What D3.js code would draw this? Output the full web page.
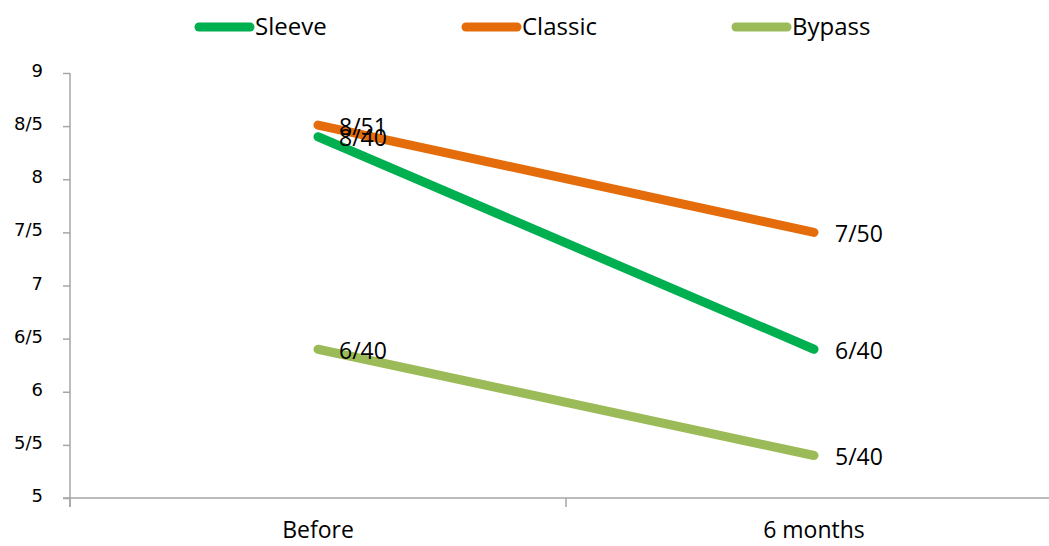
<!DOCTYPE html>
<html><head><meta charset="utf-8">
<script src="https://cdn.jsdelivr.net/npm/d3@7"></script>
<style>html,body{margin:0;padding:0;background:#fff;overflow:hidden}</style>
</head><body>
<svg id="c" width="1049" height="546"></svg>
<script>
const categories = ["Before", "6 months"];
const seriesNames = ["Sleeve", "Classic", "Bypass"];
const sleeve = [8.40, 6.40];
const classic = [8.51, 7.50];
const bypass = [6.40, 5.40];
const sleeveLabels = ["8/40", "6/40"];
const classicLabels = ["8/51", "7/50"];
const bypassLabels = ["6/40", "5/40"];
const yTicks = [5, 5.5, 6, 6.5, 7, 7.5, 8, 8.5, 9];
const yTickLabels = ["5", "5/5", "6", "6/5", "7", "7/5", "8", "8/5", "9"];
const colors = ["#00B050", "#E46C0A", "#9BBB59"];

const series = [
  {name: seriesNames[0], values: sleeve, labels: sleeveLabels, color: colors[0]},
  {name: seriesNames[1], values: classic, labels: classicLabels, color: colors[1]},
  {name: seriesNames[2], values: bypass, labels: bypassLabels, color: colors[2]}
];

const svg = d3.select("#c");
const pLeft = 70, pRight = 1062, pTop = 73, pBottom = 498;
const x = d3.scaleBand().domain(categories).range([pLeft, pRight]).padding(0);
const y = d3.scaleLinear().domain([5, 9]).range([pBottom, pTop]);
const axisColor = "#a6a6a6";

// y axis
const ya = svg.append("g").attr("transform", `translate(${pLeft},0)`)
  .call(d3.axisLeft(y).tickValues(yTicks).tickFormat((d,i) => yTickLabels[i]).tickSizeOuter(0).tickSize(7).tickPadding(20));
ya.select(".domain").attr("stroke", axisColor).attr("stroke-width", 1.5).attr("d", `M0,${pTop}V${pBottom+9}`);
ya.selectAll(".tick line").attr("stroke", axisColor).attr("stroke-width", 1.5);
ya.selectAll(".tick text").attr("font-family", "DejaVu Sans").attr("font-size", 18).attr("fill", "#000").attr("dy", "0.2em");

// x axis
const xa = svg.append("g").attr("transform", `translate(0,${pBottom})`)
  .call(d3.axisBottom(x).tickSize(0).tickSizeOuter(0).tickPadding(24));
xa.select(".domain").attr("stroke", axisColor).attr("stroke-width", 1.5).attr("d", `M${pLeft - 7},0H${pRight}`);
xa.selectAll(".tick text").attr("font-family", "Open Sans").attr("font-size", 23).attr("fill", "#000");
const bounds = [pLeft, pLeft + x.bandwidth(), pRight];
xa.selectAll(".btick").data(bounds).enter().append("line")
  .attr("x1", d => d).attr("x2", d => d).attr("y1", 0).attr("y2", 9)
  .attr("stroke", axisColor).attr("stroke-width", 1.5);

const cx = c => x(c) + x.bandwidth() / 2;
const line = d3.line().x((d, i) => cx(categories[i])).y(d => y(d));

svg.selectAll(".ser").data(series).enter().append("path")
  .attr("d", d => line(d.values))
  .attr("fill", "none").attr("stroke", d => d.color).attr("stroke-width", 9)
  .attr("stroke-linecap", "round").attr("stroke-linejoin", "round");

series.forEach(s => {
  svg.selectAll(null).data(s.values).enter().append("text")
    .attr("x", (d, i) => cx(categories[i]) + 21)
    .attr("y", d => y(d))
    .attr("dy", "0.42em")
    .attr("font-family", "Open Sans").attr("font-size", 23).attr("fill", "#000")
    .text((d, i) => s.labels[i]);
});

const legendX = [195, 462, 732];
const lg = svg.selectAll(".lg").data(series).enter().append("g")
  .attr("transform", (d, i) => `translate(${legendX[i]},27)`);
lg.append("line").attr("x1", 4).attr("x2", 55).attr("y1", 0).attr("y2", 0)
  .attr("stroke", d => d.color).attr("stroke-width", 9).attr("stroke-linecap", "round");
lg.append("text").attr("x", 60).attr("y", 0).attr("dy", "0.35em")
  .attr("font-family", "Open Sans").attr("font-size", 24).attr("fill", "#000")
  .text(d => d.name);
</script>
</body></html>
